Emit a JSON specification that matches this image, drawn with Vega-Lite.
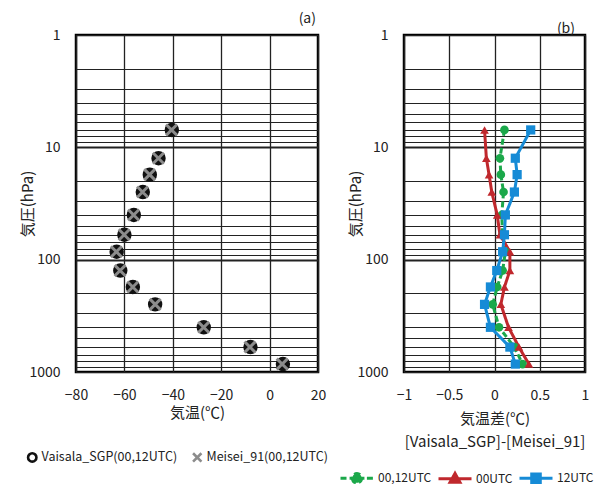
{
  "$schema": "https://vega.github.io/schema/vega-lite/v6.json",
  "padding": {"left": 19, "top": 10, "right": 5, "bottom": 5},
  "spacing": 7,
  "resolve": {
    "scale": {"shape": "independent", "color": "independent", "fill": "independent", "stroke": "independent", "strokeDash": "independent"},
    "legend": {"shape": "independent", "color": "independent", "fill": "independent", "stroke": "independent", "strokeDash": "independent"}
  },
  "config": {
    "font": "Noto Sans CJK JP",
    "view": {"stroke": "#000", "strokeWidth": 2.5},
    "axis": {
      "gridColor": "#222", "gridOpacity": 1, "domain": false, "ticks": false,
      "labelFontSize": 14, "labelColor": "#222", "labelFont": "Noto Sans CJK JP", "labelFlush": false,
      "titleFontSize": 15, "titleFontWeight": "normal", "titleColor": "#222", "titleFont": "Noto Sans CJK JP",
      "labelPadding": 16
    },
    "legend": {"labelFontSize": 12.5, "labelColor": "#222", "labelFont": "Noto Sans CJK JP", "symbolOpacity": 1},
    "title": {"fontSize": 14, "fontWeight": "normal", "anchor": "end", "color": "#222", "font": "Noto Sans CJK JP"}
  },
  "datasets": {
    "temp": [
      {"inst": "Vaisala_SGP(00,12UTC)", "P": 7, "T": -40.4},
      {"inst": "Vaisala_SGP(00,12UTC)", "P": 12.5, "T": -45.9},
      {"inst": "Vaisala_SGP(00,12UTC)", "P": 17.5, "T": -49.5},
      {"inst": "Vaisala_SGP(00,12UTC)", "P": 25, "T": -52.4},
      {"inst": "Vaisala_SGP(00,12UTC)", "P": 40, "T": -56.1},
      {"inst": "Vaisala_SGP(00,12UTC)", "P": 60, "T": -60.0},
      {"inst": "Vaisala_SGP(00,12UTC)", "P": 85, "T": -63.2},
      {"inst": "Vaisala_SGP(00,12UTC)", "P": 125, "T": -61.7},
      {"inst": "Vaisala_SGP(00,12UTC)", "P": 175, "T": -56.5},
      {"inst": "Vaisala_SGP(00,12UTC)", "P": 250, "T": -47.3},
      {"inst": "Vaisala_SGP(00,12UTC)", "P": 400, "T": -27.2},
      {"inst": "Vaisala_SGP(00,12UTC)", "P": 600, "T": -7.9},
      {"inst": "Vaisala_SGP(00,12UTC)", "P": 850, "T": 5.5},
      {"inst": "Meisei_91(00,12UTC)", "P": 7, "T": -40.51},
      {"inst": "Meisei_91(00,12UTC)", "P": 12.5, "T": -45.96},
      {"inst": "Meisei_91(00,12UTC)", "P": 17.5, "T": -49.57},
      {"inst": "Meisei_91(00,12UTC)", "P": 25, "T": -52.5},
      {"inst": "Meisei_91(00,12UTC)", "P": 40, "T": -56.18},
      {"inst": "Meisei_91(00,12UTC)", "P": 60, "T": -60.09},
      {"inst": "Meisei_91(00,12UTC)", "P": 85, "T": -63.32},
      {"inst": "Meisei_91(00,12UTC)", "P": 125, "T": -61.79},
      {"inst": "Meisei_91(00,12UTC)", "P": 175, "T": -56.53},
      {"inst": "Meisei_91(00,12UTC)", "P": 250, "T": -47.28},
      {"inst": "Meisei_91(00,12UTC)", "P": 400, "T": -27.25},
      {"inst": "Meisei_91(00,12UTC)", "P": 600, "T": -8.12},
      {"inst": "Meisei_91(00,12UTC)", "P": 850, "T": 5.19}
    ],
    "diff": [
      {"series": "00,12UTC", "P": 7, "D": 0.11},
      {"series": "00,12UTC", "P": 12.5, "D": 0.06},
      {"series": "00,12UTC", "P": 17.5, "D": 0.07},
      {"series": "00,12UTC", "P": 25, "D": 0.10},
      {"series": "00,12UTC", "P": 40, "D": 0.08},
      {"series": "00,12UTC", "P": 60, "D": 0.09},
      {"series": "00,12UTC", "P": 85, "D": 0.12},
      {"series": "00,12UTC", "P": 125, "D": 0.09},
      {"series": "00,12UTC", "P": 175, "D": 0.03},
      {"series": "00,12UTC", "P": 250, "D": -0.02},
      {"series": "00,12UTC", "P": 400, "D": 0.05},
      {"series": "00,12UTC", "P": 600, "D": 0.22},
      {"series": "00,12UTC", "P": 850, "D": 0.31},
      {"series": "00UTC", "P": 7, "D": -0.11},
      {"series": "00UTC", "P": 12.5, "D": -0.09},
      {"series": "00UTC", "P": 17.5, "D": -0.06},
      {"series": "00UTC", "P": 25, "D": -0.03},
      {"series": "00UTC", "P": 40, "D": 0.03},
      {"series": "00UTC", "P": 60, "D": 0.06},
      {"series": "00UTC", "P": 85, "D": 0.17},
      {"series": "00UTC", "P": 125, "D": 0.17},
      {"series": "00UTC", "P": 175, "D": 0.11},
      {"series": "00UTC", "P": 250, "D": 0.07},
      {"series": "00UTC", "P": 400, "D": 0.155},
      {"series": "00UTC", "P": 600, "D": 0.27},
      {"series": "00UTC", "P": 850, "D": 0.38},
      {"series": "12UTC", "P": 7, "D": 0.40},
      {"series": "12UTC", "P": 12.5, "D": 0.23},
      {"series": "12UTC", "P": 17.5, "D": 0.25},
      {"series": "12UTC", "P": 25, "D": 0.22},
      {"series": "12UTC", "P": 40, "D": 0.12},
      {"series": "12UTC", "P": 60, "D": 0.11},
      {"series": "12UTC", "P": 85, "D": 0.09},
      {"series": "12UTC", "P": 125, "D": 0.025},
      {"series": "12UTC", "P": 175, "D": -0.045},
      {"series": "12UTC", "P": 250, "D": -0.11},
      {"series": "12UTC", "P": 400, "D": -0.045},
      {"series": "12UTC", "P": 600, "D": 0.17},
      {"series": "12UTC", "P": 850, "D": 0.23}
    ]
  },
  "hconcat": [
    {
      "width": 242,
      "height": 337,
      "title": {"text": "(a)", "dx": -12, "offset": 2},
      "data": {"name": "temp"},
      "encoding": {
        "x": {
          "field": "T", "type": "quantitative",
          "scale": {"domain": [-80, 20], "nice": false, "zero": false},
          "axis": {"values": [-80, -60, -40, -20, 0, 20], "title": "気温(℃)", "titlePadding": 3, "gridWidth": 1.3}
        },
        "y": {
          "field": "P", "type": "quantitative",
          "scale": {"type": "log", "domain": [1, 1000], "reverse": true, "nice": false},
          "axis": {
            "values": [1, 2, 3, 4, 5, 6, 7, 8, 9, 10, 20, 30, 40, 50, 60, 70, 80, 90, 100, 200, 300, 400, 500, 600, 700, 800, 900, 1000],
            "labelExpr": "indexof([1, 10, 100, 1000], datum.value) >= 0 ? '' + datum.value : ''",
            "title": "気圧(hPa)", "titlePadding": -7,
            "gridWidth": {"condition": {"test": "indexof([10, 100], datum.value) >= 0", "value": 2.2}, "value": 1.2}
          }
        },
        "shape": {
          "field": "inst", "type": "nominal",
          "scale": {"domain": ["Vaisala_SGP(00,12UTC)", "Meisei_91(00,12UTC)"], "range": ["circle", "M-1,-1L1,1M1,-1L-1,1"]},
          "legend": {
            "orient": "none", "legendX": -50, "legendY": 416, "direction": "horizontal", "title": null,
            "symbolSize": 70, "symbolStrokeWidth": 2.6, "labelOffset": 3, "columnPadding": 9
          }
        },
        "stroke": {
          "field": "inst", "type": "nominal",
          "scale": {"domain": ["Vaisala_SGP(00,12UTC)", "Meisei_91(00,12UTC)"], "range": ["#111", "#8c8c8c"]},
          "legend": {
            "orient": "none", "legendX": -50, "legendY": 416, "direction": "horizontal", "title": null,
            "symbolSize": 70, "symbolStrokeWidth": 2.6, "labelOffset": 3, "columnPadding": 9
          }
        }
      },
      "layer": [
        {
          "transform": [{"filter": "datum.inst === 'Vaisala_SGP(00,12UTC)'"}],
          "mark": {"type": "point", "size": 55, "strokeWidth": 7, "opacity": 1}
        },
        {
          "transform": [{"filter": "datum.inst === 'Meisei_91(00,12UTC)'"}],
          "mark": {"type": "point", "size": 120, "strokeWidth": 3, "opacity": 1}
        }
      ]
    },
    {
      "width": 181,
      "height": 337,
      "title": {"text": "(b)", "dx": -19, "offset": -8},
      "data": {"name": "diff"},
      "encoding": {
        "x": {
          "field": "D", "type": "quantitative",
          "scale": {"domain": [-1, 1], "nice": false, "zero": false},
          "axis": {"values": [-1, -0.5, 0, 0.5, 1], "format": "~g", "title": ["気温差(℃)", "[Vaisala_SGP]-[Meisei_91]"], "titleLineHeight": 23, "titlePadding": 9, "gridWidth": 1.3}
        },
        "y": {
          "field": "P", "type": "quantitative",
          "scale": {"type": "log", "domain": [1, 1000], "reverse": true, "nice": false},
          "axis": {
            "values": [1, 2, 3, 4, 5, 6, 7, 8, 9, 10, 20, 30, 40, 50, 60, 70, 80, 90, 100, 200, 300, 400, 500, 600, 700, 800, 900, 1000],
            "labelExpr": "indexof([1, 10, 100, 1000], datum.value) >= 0 ? '' + datum.value : ''",
            "title": "気圧(hPa)", "titlePadding": -7,
            "gridWidth": {"condition": {"test": "indexof([10, 100], datum.value) >= 0", "value": 2.2}, "value": 1.2}
          }
        }
      },
      "layer": [
        {
          "mark": {"type": "line", "strokeWidth": 3},
          "encoding": {
            "stroke": {
              "field": "series", "type": "nominal",
              "scale": {"domain": ["00,12UTC", "00UTC", "12UTC"], "range": ["#1BA84A", "#C0282D", "#168BD6"]},
              "legend": {
                "orient": "none", "legendX": -65, "legendY": 425, "direction": "horizontal", "title": null,
                "symbolSize": 1089, "symbolStrokeWidth": 3, "labelOffset": 3, "columnPadding": 0, "symbolOpacity": 1, "labelFontSize": 12
              }
            },
            "strokeDash": {
              "field": "series", "type": "nominal",
              "scale": {"domain": ["00,12UTC", "00UTC", "12UTC"], "range": [[6, 3], [1, 0], [1, 0]]},
              "legend": null
            },
            "order": {"field": "P", "type": "quantitative"}
          }
        },
        {
          "transform": [{"filter": "datum.series === '00,12UTC'"}],
          "mark": {"type": "point", "shape": "circle", "filled": true, "color": "#1BA84A", "opacity": 1, "size": 75}
        },
        {
          "transform": [{"filter": "datum.series === '00UTC'"}],
          "mark": {"type": "point", "shape": "triangle-up", "filled": true, "color": "#C0282D", "opacity": 1, "size": 75}
        },
        {
          "transform": [{"filter": "datum.series === '12UTC'"}],
          "mark": {"type": "point", "shape": "square", "filled": true, "color": "#168BD6", "opacity": 1, "size": 85}
        },
        {
          "mark": {"type": "point", "filled": true, "opacity": 0, "size": 10},
          "encoding": {
            "fill": {
              "field": "series", "type": "nominal",
              "scale": {"domain": ["00,12UTC", "00UTC", "12UTC"], "range": ["#1BA84A", "#C0282D", "#168BD6"]},
              "legend": {
                "orient": "none", "legendX": -65, "legendY": 425, "direction": "horizontal", "title": null,
                "symbolSize": 1089, "symbolStrokeWidth": 3, "labelOffset": 3, "columnPadding": 0, "symbolOpacity": 1, "labelFontSize": 12
              }
            },
            "stroke": {
              "field": "series", "type": "nominal",
              "scale": {"domain": ["00,12UTC", "00UTC", "12UTC"], "range": ["#1BA84A", "#C0282D", "#168BD6"]},
              "legend": {
                "orient": "none", "legendX": -65, "legendY": 425, "direction": "horizontal", "title": null,
                "symbolSize": 1089, "symbolStrokeWidth": 3, "labelOffset": 3, "columnPadding": 0, "symbolOpacity": 1, "labelFontSize": 12
              }
            },
            "shape": {
              "field": "series", "type": "nominal",
              "scale": {
                "domain": ["00,12UTC", "00UTC", "12UTC"],
                "range": [
                  "M-1,0H-0.6M-0.45,0H0.45M0.6,0H1M-0.28,0A0.28,0.28 0 1,0 0.28,0A0.28,0.28 0 1,0 -0.28,0Z",
                  "M-1,0H1M0,-0.32L0.3,0.22L-0.3,0.22Z",
                  "M-1,0H1M-0.26,-0.26H0.26V0.26H-0.26Z"
                ]
              },
              "legend": {
                "orient": "none", "legendX": -65, "legendY": 425, "direction": "horizontal", "title": null,
                "symbolSize": 1089, "symbolStrokeWidth": 3, "labelOffset": 3, "columnPadding": 0, "symbolOpacity": 1, "labelFontSize": 12
              }
            }
          }
        }
      ]
    }
  ]
}
